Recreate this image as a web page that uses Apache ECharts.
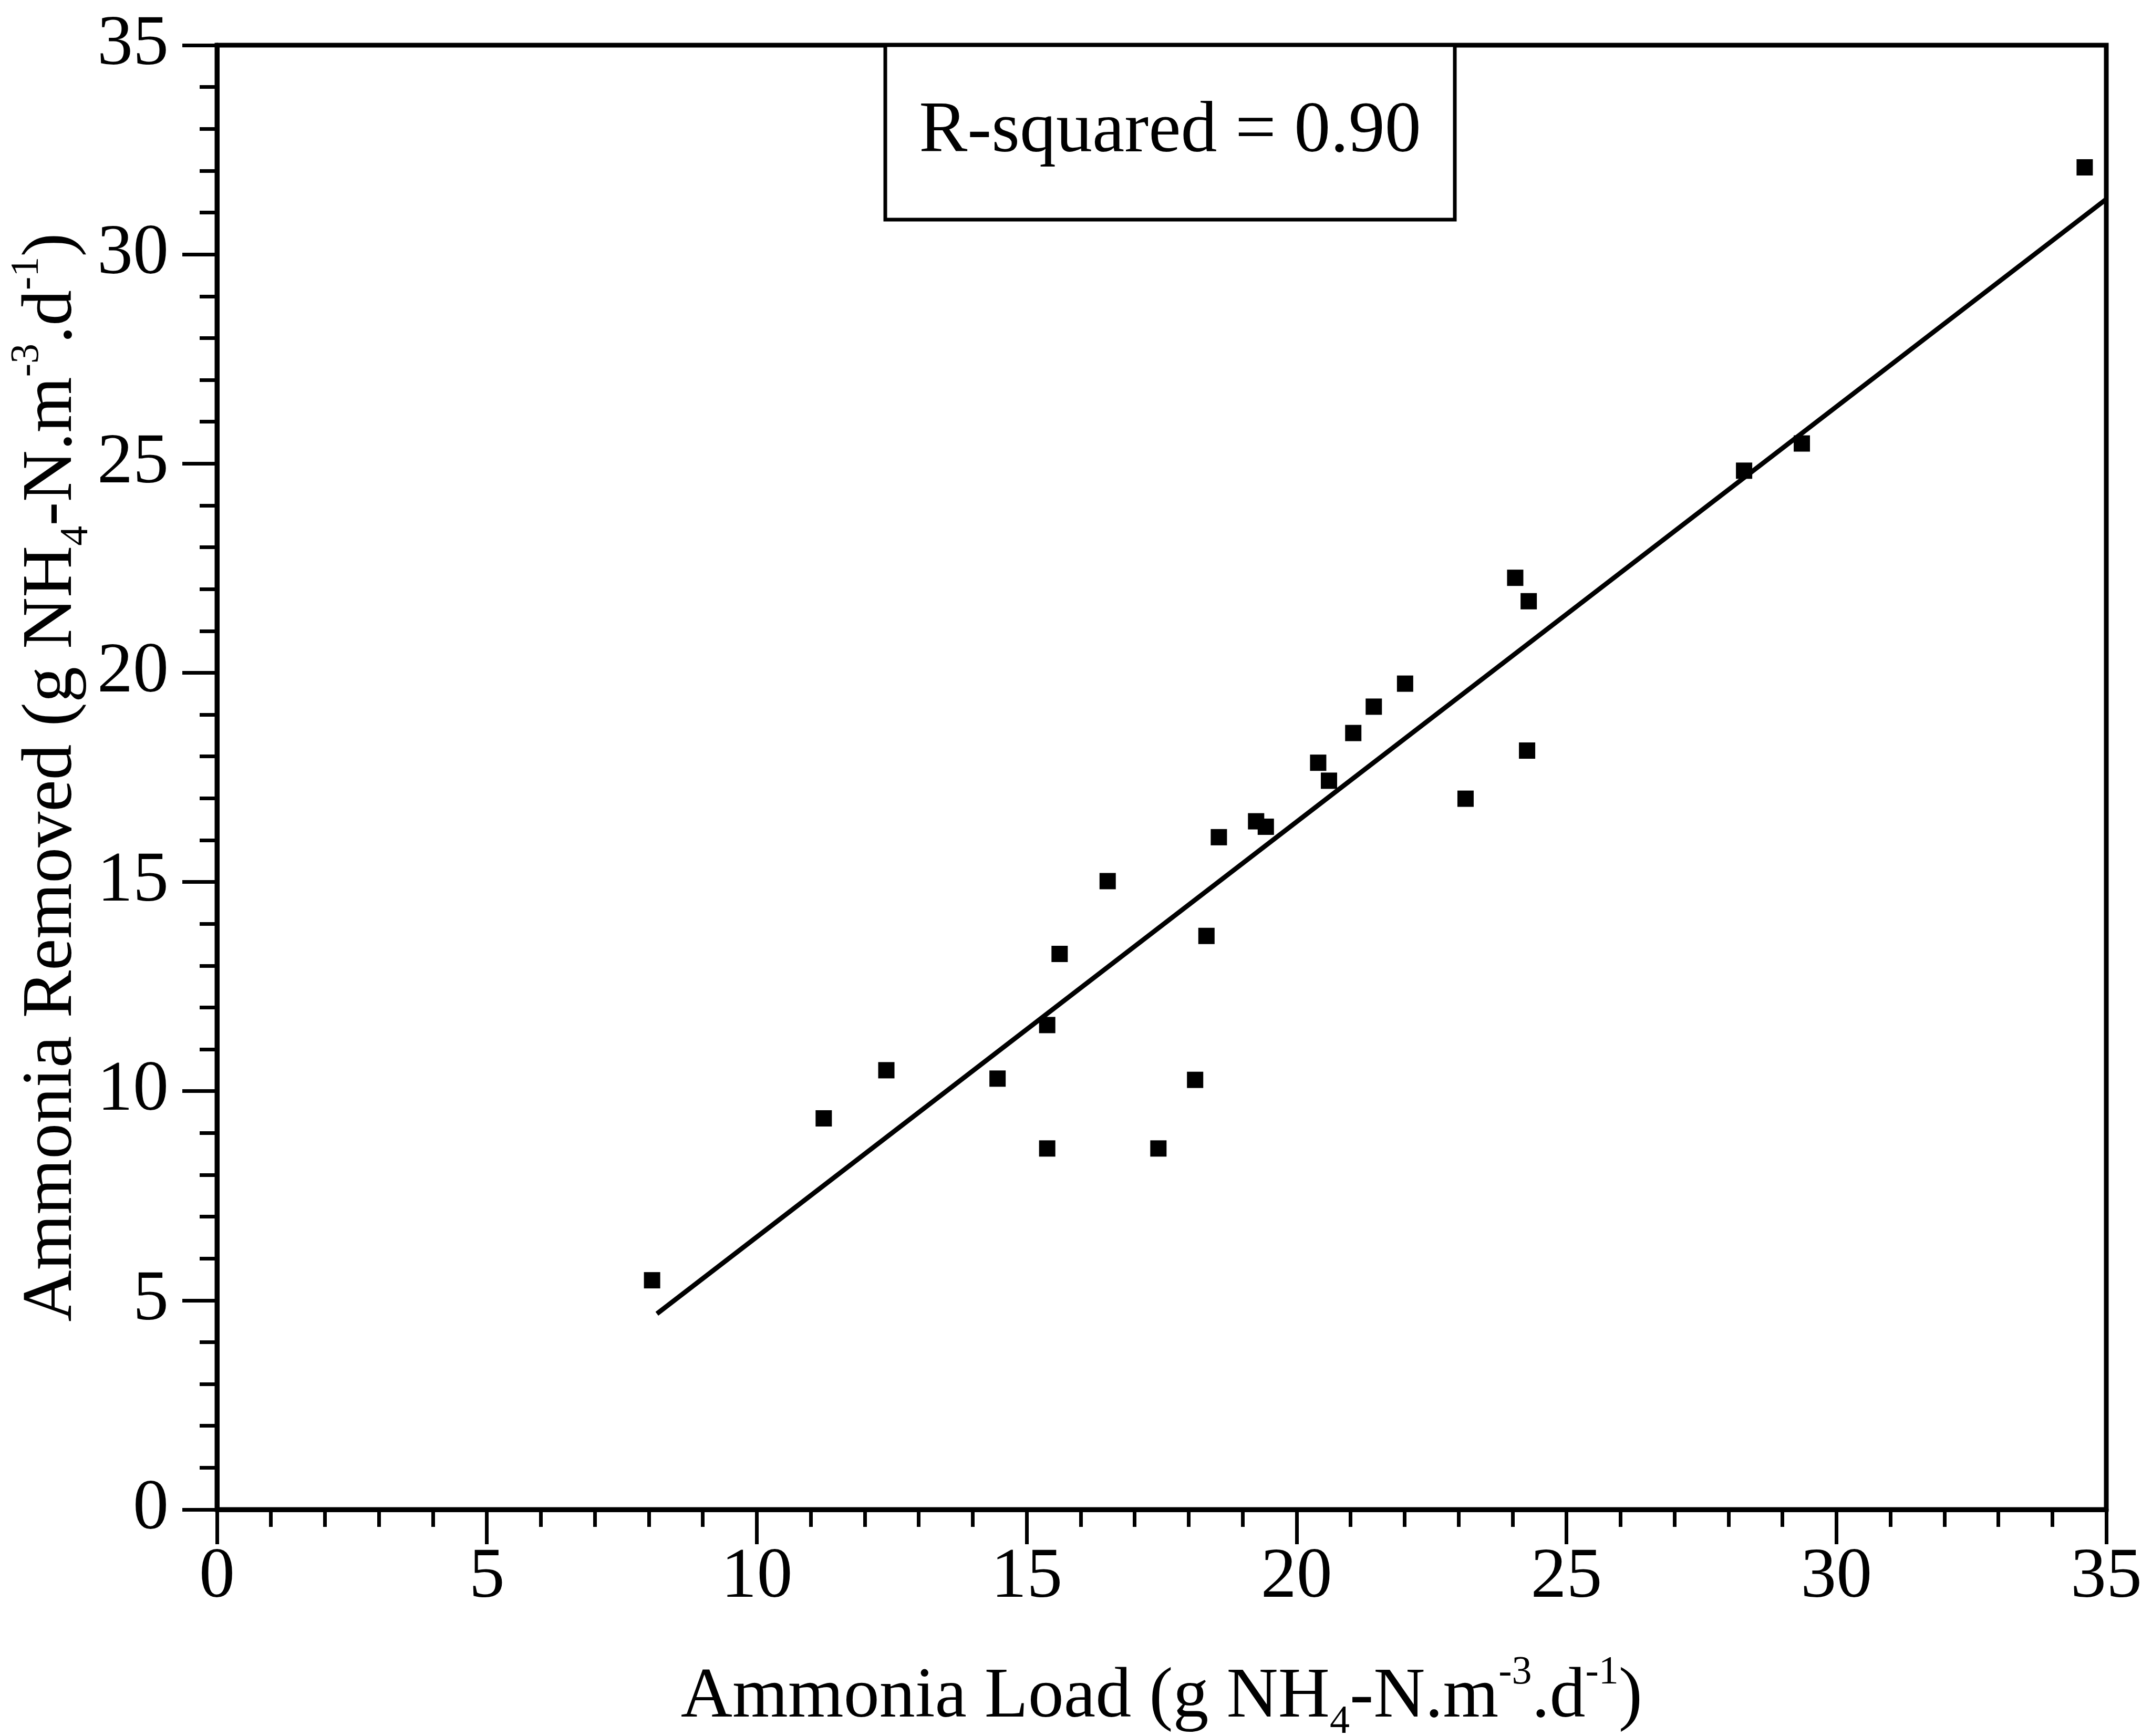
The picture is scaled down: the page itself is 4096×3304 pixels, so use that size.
<!DOCTYPE html>
<html>
<head>
<meta charset="utf-8">
<script src="https://cdn.jsdelivr.net/npm/echarts@6/dist/echarts.min.js"></script>
<style>
  html, body { margin: 0; padding: 0; background: #ffffff; }
  #chart { width: 4096px; height: 3304px; }
</style>
</head>
<body>
<div id="chart"></div>
<script>
// Ammonia load applied vs ammonia removed (g NH4-N per m3 per day)
const loadValues = [8.06, 11.24, 12.40, 14.46, 15.38, 15.38, 15.61, 16.50, 17.44, 18.12,
                    18.33, 18.56, 19.25, 19.43, 20.40, 20.60, 21.05, 21.43, 22.01, 23.13,
                    24.05, 24.30, 24.27, 28.29, 29.36, 34.60];
const removedValues = [5.48, 9.35, 10.50, 10.30, 8.63, 11.58, 13.28, 15.02, 8.63, 10.27,
                       13.71, 16.07, 16.45, 16.32, 17.85, 17.42, 18.56, 19.19, 19.74, 16.99,
                       22.27, 21.71, 18.14, 24.83, 25.48, 32.08];

// Least-squares line end points
const fitLoad = [8.15, 35];
const fitRemoved = [4.68, 31.32];

const rSquaredLabel = 'R-squared = 0.90';
const tickLabels = ['0', '5', '10', '15', '20', '25', '30', '35'];

const FONT = "'Liberation Serif', 'Times New Roman', serif";
const INK = '#000000';

const points = loadValues.map((x, i) => [x, removedValues[i]]);
const fitLine = fitLoad.map((x, i) => [x, fitRemoved[i]]);

const unitRich = {
  t:   { fontFamily: FONT, fontSize: 136, lineHeight: 170, color: INK, verticalAlign: 'middle' },
  sub: { fontFamily: FONT, fontSize: 76, lineHeight: 76, color: INK, verticalAlign: 'bottom' },
  sup: { fontFamily: FONT, fontSize: 76, lineHeight: 84, color: INK, verticalAlign: 'top' }
};

function unitTitle(prefix) {
  return '{t|' + prefix + ' (g NH}{sub|4}{t|-N.m}{sup|-3}{t|.d}{sup|-1}{t|)}';
}

function tickText(v) {
  return tickLabels[Math.round(v / 5)] ?? '';
}

function valueAxis(extra) {
  return Object.assign({
    type: 'value',
    min: 0,
    max: 35,
    interval: 5,
    nameLocation: 'middle',
    nameMoveOverlap: false,
    nameTextStyle: { rich: unitRich },
    axisLine: { show: true, onZero: false, lineStyle: { color: INK, width: 9 } },
    axisTick: { show: true, inside: false, length: 66, lineStyle: { color: INK, width: 7 } },
    minorTick: { show: true, splitNumber: 5, length: 33, lineStyle: { color: INK, width: 7 } },
    splitLine: { show: false },
    minorSplitLine: { show: false }
  }, extra);
}

const chart = echarts.init(document.getElementById('chart'), null, { renderer: 'canvas' });

chart.setOption({
  animation: false,
  backgroundColor: '#ffffff',
  grid: {
    left: 413, right: 87, top: 86, bottom: 431,
    show: true,
    borderColor: INK,
    borderWidth: 9,
    backgroundColor: 'transparent',
    outerBoundsMode: 'none'
  },
  xAxis: valueAxis({
    name: unitTitle('Ammonia Load'),
    nameGap: 273,
    axisLabel: { color: INK, fontFamily: FONT, fontSize: 136, margin: 62, formatter: tickText }
  }),
  yAxis: valueAxis({
    name: unitTitle('Ammonia Removed'),
    nameGap: 229,
    nameRotate: 90,
    axisLabel: { color: INK, fontFamily: FONT, fontSize: 136, margin: 92, formatter: tickText }
  }),
  series: [
    {
      type: 'line',
      data: fitLine,
      showSymbol: false,
      symbol: 'none',
      lineStyle: { color: INK, width: 9, opacity: 1 },
      z: 2,
      silent: true
    },
    {
      type: 'scatter',
      data: points,
      symbol: 'rect',
      symbolSize: 31,
      itemStyle: { color: INK, opacity: 1 },
      z: 3
    }
  ],
  graphic: [
    {
      type: 'rect',
      shape: { x: 1685, y: 86, width: 1084, height: 332 },
      style: { fill: '#ffffff', stroke: INK, lineWidth: 7 },
      z: 10
    },
    {
      type: 'text',
      x: 2227,
      y: 252,
      style: {
        text: rSquaredLabel,
        fontFamily: FONT,
        fontSize: 138,
        fill: INK,
        align: 'center',
        verticalAlign: 'middle'
      },
      z: 11
    }
  ]
});
</script>
</body>
</html>
